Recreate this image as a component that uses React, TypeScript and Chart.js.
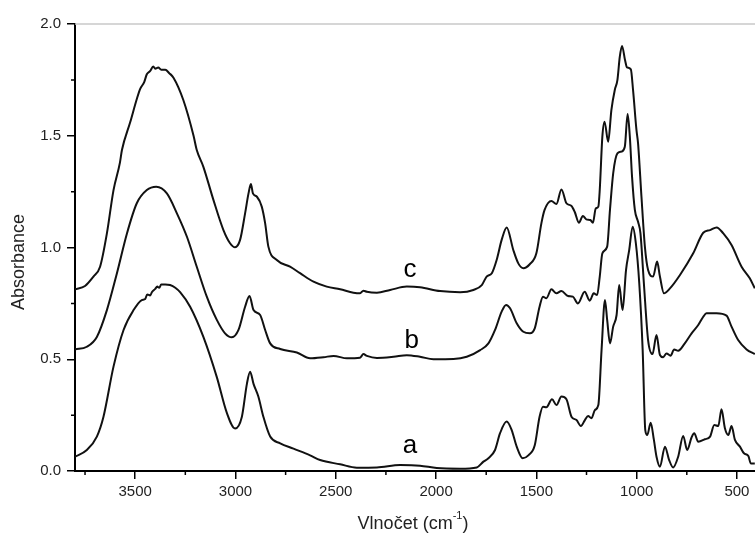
import React, { useEffect, useRef } from "react";
import { Chart, registerables } from "chart.js";

Chart.register(...registerables);

// ---- data (wavenumber cm^-1, absorbance) ----
const wnA = [3800, 3741, 3691, 3658, 3608, 3558, 3508, 3467, 3450, 3440, 3425, 3417, 3400, 3390, 3380, 3370, 3350, 3326, 3300, 3276, 3226, 3160, 3093, 3043, 3002, 2968, 2943, 2927, 2910, 2886, 2861, 2827, 2777, 2711, 2628, 2578, 2478, 2395, 2295, 2179, 2080, 1997, 1880, 1797, 1764, 1739, 1706, 1681, 1648, 1623, 1598, 1568, 1540, 1508, 1484, 1467, 1450, 1422, 1400, 1375, 1350, 1325, 1300, 1278, 1258, 1242, 1225, 1208, 1191, 1175, 1158, 1147, 1133, 1117, 1100, 1087, 1070, 1053, 1037, 1020, 1004, 987, 970, 957, 947, 930, 914, 901, 884, 859, 838, 818, 793, 768, 748, 726, 713, 693, 660, 634, 613, 593, 577, 560, 543, 527, 510, 485, 465, 443, 431, 411];
const absA = [0.064, 0.094, 0.154, 0.243, 0.467, 0.631, 0.72, 0.765, 0.77, 0.79, 0.785, 0.8, 0.815, 0.825, 0.82, 0.835, 0.835, 0.832, 0.82, 0.8, 0.735, 0.6, 0.42, 0.26, 0.19, 0.243, 0.39, 0.444, 0.39, 0.333, 0.243, 0.154, 0.124, 0.1, 0.07, 0.049, 0.03, 0.015, 0.016, 0.027, 0.024, 0.013, 0.01, 0.016, 0.042, 0.057, 0.094, 0.169, 0.221, 0.183, 0.109, 0.057, 0.07, 0.115, 0.243, 0.288, 0.285, 0.321, 0.295, 0.333, 0.321, 0.243, 0.228, 0.201, 0.228, 0.246, 0.236, 0.273, 0.295, 0.541, 0.765, 0.676, 0.571, 0.646, 0.698, 0.832, 0.72, 0.899, 0.989, 1.093, 1.019, 0.84, 0.541, 0.183, 0.161, 0.216, 0.139, 0.064, 0.019, 0.109, 0.049, 0.016, 0.064, 0.157, 0.094, 0.151, 0.169, 0.131, 0.142, 0.154, 0.206, 0.201, 0.276, 0.191, 0.161, 0.201, 0.139, 0.109, 0.079, 0.067, 0.034, 0.034];

const wnB = [3800, 3741, 3691, 3641, 3591, 3541, 3492, 3442, 3395, 3342, 3292, 3242, 3193, 3143, 3093, 3052, 3018, 2985, 2952, 2930, 2910, 2877, 2852, 2827, 2777, 2694, 2628, 2561, 2511, 2444, 2379, 2362, 2345, 2295, 2212, 2146, 2080, 2013, 1913, 1847, 1780, 1739, 1706, 1673, 1651, 1631, 1598, 1565, 1532, 1508, 1484, 1467, 1450, 1425, 1400, 1375, 1342, 1318, 1293, 1259, 1234, 1214, 1197, 1184, 1171, 1147, 1133, 1117, 1096, 1076, 1059, 1045, 1034, 1023, 1009, 993, 981, 964, 943, 921, 901, 884, 868, 851, 831, 813, 793, 760, 726, 693, 668, 652, 602, 552, 527, 494, 452, 411];
const absB = [0.544, 0.556, 0.6, 0.72, 0.885, 1.063, 1.198, 1.257, 1.272, 1.242, 1.153, 1.048, 0.914, 0.78, 0.676, 0.616, 0.598, 0.631, 0.735, 0.783, 0.72, 0.698, 0.631, 0.571, 0.546, 0.53, 0.504, 0.509, 0.515, 0.504, 0.507, 0.523, 0.515, 0.506, 0.511, 0.518, 0.511, 0.5, 0.501, 0.511, 0.541, 0.571, 0.631, 0.713, 0.743, 0.728, 0.661, 0.623, 0.616, 0.638, 0.735, 0.78, 0.773, 0.813, 0.795, 0.805, 0.783, 0.78, 0.75, 0.802, 0.762, 0.795, 0.787, 0.87, 0.974, 1.004, 1.168, 1.332, 1.421, 1.429, 1.451, 1.597, 1.496, 1.317, 1.168, 1.115, 1.063, 0.84, 0.586, 0.523, 0.608, 0.519, 0.509, 0.526, 0.516, 0.544, 0.538, 0.571, 0.616, 0.653, 0.69, 0.706, 0.706, 0.695, 0.646, 0.586, 0.544, 0.523];

const wnC = [3800, 3750, 3708, 3675, 3641, 3608, 3576, 3566, 3525, 3490, 3475, 3455, 3442, 3425, 3410, 3400, 3385, 3370, 3350, 3330, 3309, 3260, 3209, 3193, 3160, 3110, 3060, 3027, 3002, 2977, 2952, 2935, 2923, 2913, 2893, 2869, 2852, 2836, 2794, 2728, 2678, 2611, 2545, 2478, 2412, 2379, 2362, 2345, 2295, 2229, 2146, 2080, 1980, 1880, 1814, 1772, 1748, 1722, 1698, 1673, 1648, 1615, 1590, 1565, 1533, 1500, 1475, 1459, 1425, 1400, 1375, 1350, 1325, 1309, 1288, 1268, 1251, 1231, 1218, 1204, 1191, 1184, 1171, 1160, 1142, 1126, 1109, 1096, 1084, 1073, 1058, 1048, 1029, 1018, 1001, 993, 976, 959, 943, 918, 898, 884, 864, 834, 784, 718, 668, 634, 601, 568, 527, 477, 436, 411];
const absC = [0.813, 0.828, 0.87, 0.914, 1.063, 1.257, 1.38, 1.436, 1.56, 1.67, 1.71, 1.74, 1.775, 1.79, 1.81, 1.8, 1.805, 1.795, 1.795, 1.78, 1.76, 1.66, 1.5, 1.436, 1.361, 1.213, 1.078, 1.019, 1.001, 1.034, 1.153, 1.242, 1.284, 1.242, 1.227, 1.183, 1.108, 1.004, 0.944, 0.914, 0.885, 0.847, 0.825, 0.813, 0.798, 0.795, 0.807, 0.802, 0.798, 0.81, 0.825, 0.822, 0.805, 0.8, 0.81, 0.832, 0.87, 0.885, 0.944, 1.034, 1.09, 0.989, 0.929, 0.907, 0.925, 0.974, 1.108, 1.168, 1.208, 1.195, 1.26, 1.198, 1.186, 1.16, 1.111, 1.141, 1.126, 1.123, 1.111, 1.175, 1.183, 1.257, 1.496, 1.563, 1.473, 1.615, 1.705, 1.749, 1.854, 1.902, 1.839, 1.806, 1.797, 1.705, 1.526, 1.466, 1.227, 1.004, 0.899, 0.87, 0.937, 0.87, 0.795, 0.817, 0.877, 0.974, 1.066, 1.078, 1.09, 1.063, 1.011, 0.914, 0.862, 0.817];

const curveNames = ["a", "b", "c"];
const curveLabelWn = [2130, 2121, 2130];
const curveLabelAbs = [0.082, 0.549, 0.869];

const xMajorTicks = [3500, 3000, 2500, 2000, 1500, 1000, 500];
const xMinorTicks = [3750, 3250, 2750, 2250, 1750, 1250, 750];
const yMinorTicks = [0.25, 0.75, 1.25, 1.75];
const xMin = 410;
const xMax = 3800;

const FONT = "'Liberation Sans', Arial, sans-serif";
const TEXT = "#222";

const toPoints = (xs: number[], ys: number[]) => xs.map((x, i) => ({ x, y: ys[i] }));

const decorPlugin = {
  id: "decor",
  afterDraw(chart: any) {
    const { ctx, chartArea, scales } = chart;
    const xs = scales.x;
    const ys = scales.y;
    ctx.save();
    // top frame line
    ctx.strokeStyle = "#c8c8c8";
    ctx.lineWidth = 1.5;
    ctx.beginPath();
    ctx.moveTo(chartArea.left, chartArea.top);
    ctx.lineTo(chartArea.right, chartArea.top);
    ctx.stroke();
    // minor ticks
    ctx.strokeStyle = "#000";
    ctx.lineWidth = 1.5;
    ctx.beginPath();
    xMinorTicks.forEach((v) => {
      const px = xs.getPixelForValue(v);
      ctx.moveTo(px, chartArea.bottom);
      ctx.lineTo(px, chartArea.bottom + 4);
    });
    yMinorTicks.forEach((v) => {
      const py = ys.getPixelForValue(v);
      ctx.moveTo(chartArea.left - 4, py);
      ctx.lineTo(chartArea.left, py);
    });
    ctx.stroke();
    // curve labels
    ctx.fillStyle = "#000";
    ctx.font = `26px ${FONT}`;
    ctx.textAlign = "center";
    ctx.textBaseline = "alphabetic";
    curveNames.forEach((n, i) => {
      ctx.fillText(n, xs.getPixelForValue(curveLabelWn[i]), ys.getPixelForValue(curveLabelAbs[i]));
    });
    // axis titles
    ctx.fillStyle = TEXT;
    ctx.font = `18px ${FONT}`;
    ctx.textBaseline = "middle";
    const main = "Vlnočet (cm";
    const sup = "-1";
    const close = ")";
    const wMain = ctx.measureText(main).width;
    ctx.font = `11px ${FONT}`;
    const wSup = ctx.measureText(sup).width;
    ctx.font = `18px ${FONT}`;
    const wClose = ctx.measureText(close).width;
    const total = wMain + wSup + wClose;
    const cx = (chartArea.left + chartArea.right) / 2 - 2;
    let sx = cx - total / 2;
    const ty = 524;
    ctx.textAlign = "left";
    ctx.fillText(main, sx, ty);
    sx += wMain;
    ctx.font = `11px ${FONT}`;
    ctx.fillText(sup, sx, ty - 8);
    sx += wSup;
    ctx.font = `18px ${FONT}`;
    ctx.fillText(close, sx, ty);
    // y title
    ctx.save();
    ctx.translate(19, 262);
    ctx.rotate(-Math.PI / 2);
    ctx.textAlign = "center";
    ctx.fillText("Absorbance", 0, 0);
    ctx.restore();
    ctx.restore();
  },
};

export default function App() {
  const ref = useRef<HTMLCanvasElement | null>(null);
  useEffect(() => {
    if (!ref.current) return;
    const ds = (xs: number[], ys: number[]) => ({
      data: toPoints(xs, ys),
      borderColor: "#111",
      borderWidth: 2,
      pointRadius: 0,
      fill: false,
      tension: 0.4,
      cubicInterpolationMode: "monotone" as const,
    });
    const chart = new Chart(ref.current, {
      type: "line",
      data: { datasets: [ds(wnA, absA), ds(wnB, absB), ds(wnC, absC)] },
      options: {
        animation: false,
        responsive: false,
        devicePixelRatio: 1,
        layout: { padding: { top: 24, left: 0, right: 0, bottom: 0 } },
        plugins: { legend: { display: false }, tooltip: { enabled: false }, title: { display: false } },
        scales: {
          x: {
            type: "linear",
            reverse: true,
            min: xMin,
            max: xMax,
            afterBuildTicks: (s: any) => {
              s.ticks = xMajorTicks.map((v) => ({ value: v }));
            },
            afterFit: (s: any) => {
              s.height = 63;
              s.paddingLeft = 0;
              s.paddingRight = 0;
            },
            ticks: {
              color: TEXT,
              font: { family: FONT, size: 15 },
              padding: 4,
              maxRotation: 0,
              autoSkip: false,
              callback: (v: any) => String(v),
            },
            grid: { display: true, drawOnChartArea: false, drawTicks: true, tickLength: 8, color: "#000", lineWidth: 1.5 },
            border: { display: true, color: "#000", width: 2 },
          },
          y: {
            type: "linear",
            min: 0,
            max: 2,
            afterBuildTicks: (s: any) => {
              s.ticks = [0, 0.5, 1, 1.5, 2].map((v) => ({ value: v }));
            },
            afterFit: (s: any) => {
              s.width = 75;
              s.paddingTop = 0;
              s.paddingBottom = 0;
            },
            ticks: {
              color: TEXT,
              font: { family: FONT, size: 15 },
              padding: 6,
              callback: (v: any) => Number(v).toFixed(1),
            },
            grid: { display: true, drawOnChartArea: false, drawTicks: true, tickLength: 8, color: "#000", lineWidth: 1.5 },
            border: { display: true, color: "#000", width: 2 },
          },
        },
      },
      plugins: [decorPlugin],
    });
    return () => chart.destroy();
  }, []);
  return (
    <div style={{ position: "fixed", left: 0, top: 0, width: 755, height: 534, background: "#fff" }}>
      <canvas ref={ref} width={755} height={534} style={{ display: "block" }} />
    </div>
  );
}
